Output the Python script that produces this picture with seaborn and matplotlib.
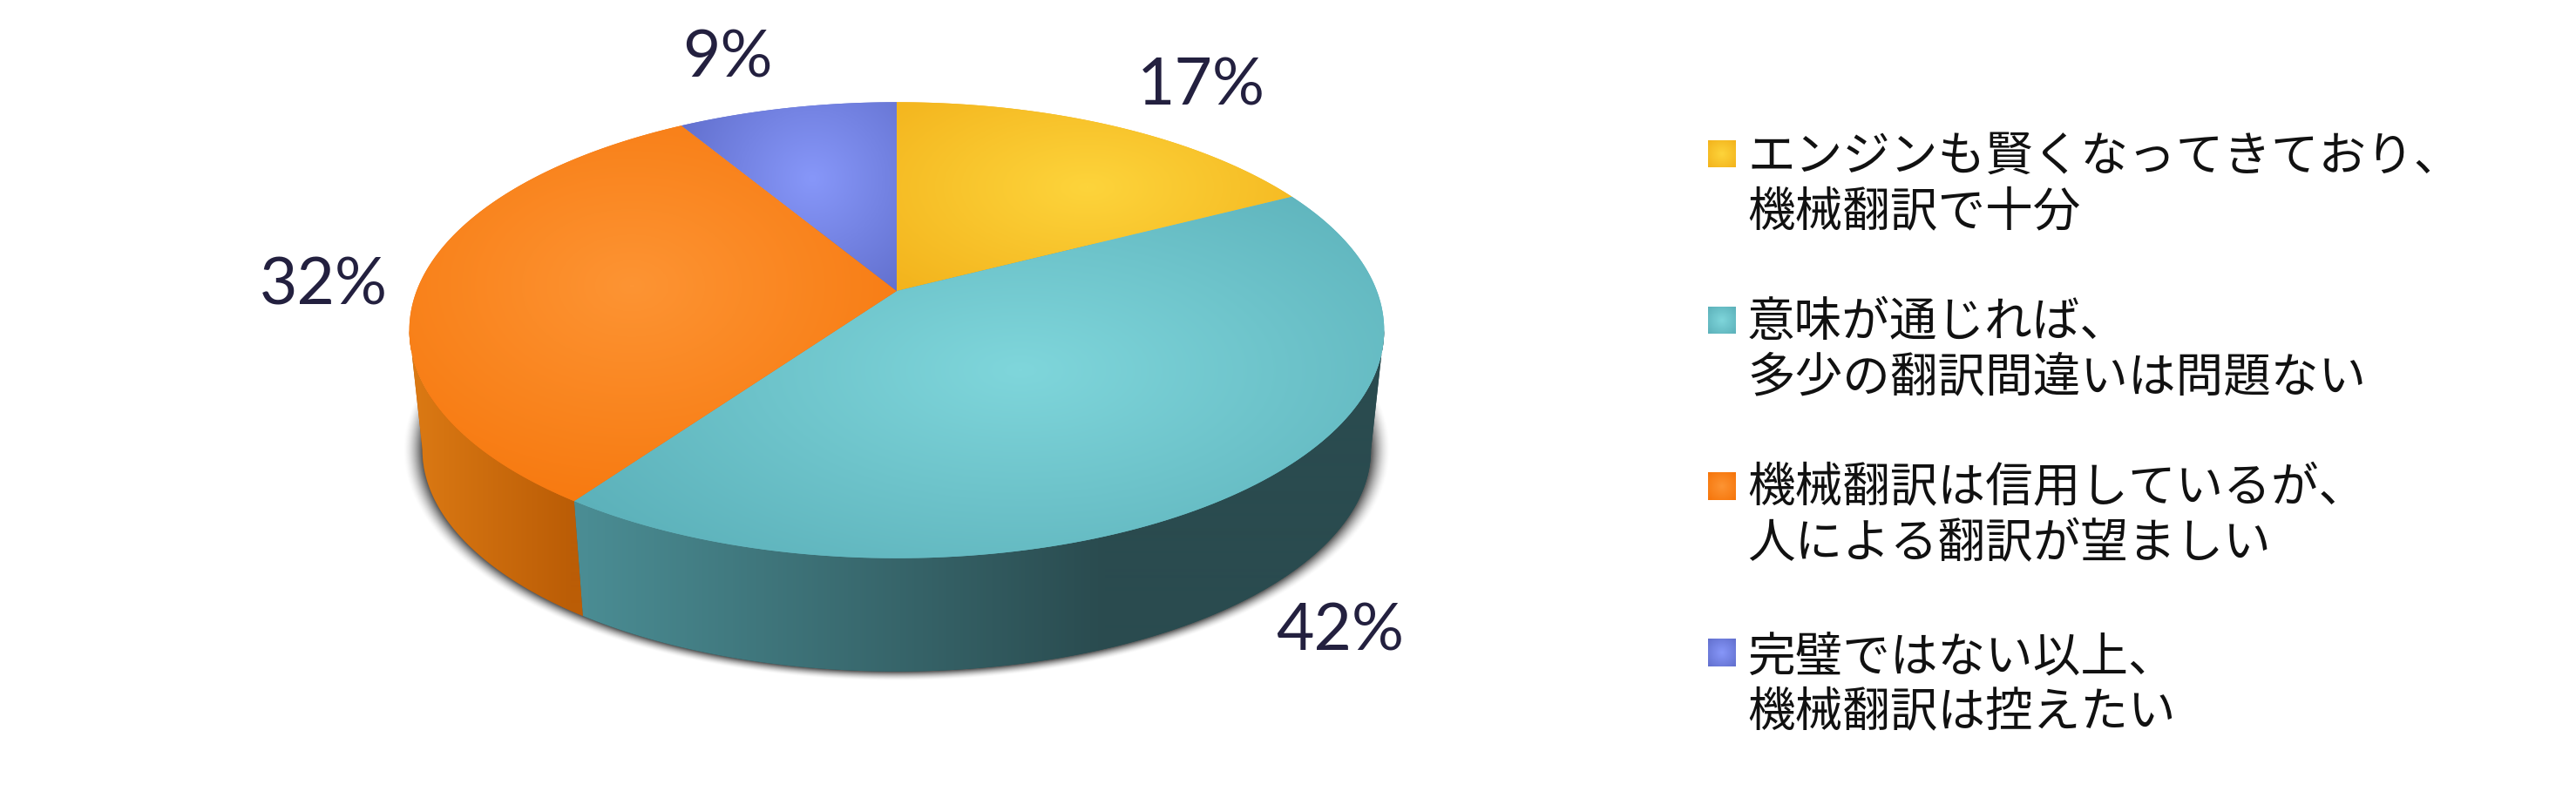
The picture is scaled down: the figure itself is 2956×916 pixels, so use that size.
import numpy as np
import matplotlib
matplotlib.use("Agg")
import matplotlib.pyplot as plt
import seaborn as sns
from matplotlib.patches import Polygon
from matplotlib.path import Path
from matplotlib.transforms import Affine2D, Transform

# ---- data ----
categories = [
    "エンジンも賢くなってきており、\n機械翻訳で十分",
    "意味が通じれば、\n多少の翻訳間違いは問題ない",
    "機械翻訳は信用しているが、\n人による翻訳が望ましい",
    "完璧ではない以上、\n機械翻訳は控えたい",
]
values = [17.4, 42.4, 31.6, 8.6]
# ---- style ----
light = ["#FDD43B", "#7FD6DB", "#FD9433", "#8797F9"]
edge = ["#F3B31C", "#5CB1BA", "#F6750A", "#6270CE"]
side_left = ["#E9AB16", "#4B8E95", "#DC7A14", "#6270CE"]
side_right = ["#B98A10", "#2A4B4F", "#BB5D06", "#4A5498"]
side_span = [(1029, 1480), (656, 1270), (470, 656), (780, 1029)]
glow = [(1248, 215, 320, 160), (1171, 425, 600, 290), (725, 328, 430, 300), (932, 205, 165, 160)]
label_xy = [(1378, 99), (1538, 725), (371, 328), (835, 67)]
swatch_y = [(161, 192), (352, 383), (542, 574), (733, 765)]
text_y = [212, 402, 592, 786]
W, H = 2956, 916

sns.set_theme(style="white")
plt.rcParams["font.family"] = ["Noto Sans CJK JP", "DejaVu Sans"]


class DiskProjection(Transform):
    """Perspective view of the unit pie disk, in pixel-like axis units."""
    input_dims = output_dims = 2
    is_separable = False

    def __init__(self, cx, cy, a, b, k):
        super().__init__()
        self.p = (cx, cy, a, b, k)

    def transform_non_affine(self, vals):
        cx, cy, a, b, k = self.p
        vals = np.asarray(vals, float)
        w = 1 + k * vals[:, 1]
        return np.column_stack([cx + a * vals[:, 0] / w, cy - b * vals[:, 1] / w])

    def transform_path_non_affine(self, path):
        polys = path.transformed(Affine2D().scale(3000)).to_polygons(closed_only=True)
        return Path(self.transform_non_affine(polys[0] / 3000), closed=True)


fig = plt.figure(figsize=(W / 100, H / 100), dpi=100, facecolor="white")
ax = fig.add_axes([0, 0, 1, 1])

wedges, _ = ax.pie(values, colors=edge, startangle=90, counterclock=False,
                   wedgeprops={"linewidth": 0})
ax.set_aspect("auto")

K = 0.172
proj = DiskProjection(1029, 334, 551, 254, K)
SHRINK, VANISH = 0.973, 5455
# silhouette angles: the wall is visible between these two tangent points
tangent = np.degrees(np.arcsin(K))
vis_lo, vis_hi = -180 + tangent, -tangent


def base_of(pts):
    return np.column_stack([1029 + (pts[:, 0] - 1029) * SHRINK,
                            VANISH + (pts[:, 1] - VANISH) * SHRINK])


gx, gy = np.meshgrid(np.arange(W) + 0.5, np.arange(H) + 0.5)
extent = (0, W, H, 0)

# soft shadow around the base of the disk
d = np.hypot((gx - 1029) / 544, (gy - 516) / 255)
soft = np.clip((1.042 - d) / 0.04, 0, 1) ** 1.7
ax.imshow(np.zeros_like(d), cmap="gray", vmin=0, vmax=1, extent=extent, aspect="auto",
          alpha=0.62 * soft, zorder=0)

for i, w in enumerate(wedges):
    w.set_transform(proj + ax.transData)
    w.set_zorder(3)
    t0, t1 = max(w.theta1, vis_lo), min(w.theta2, vis_hi)
    if t1 > t0:
        th = np.radians(np.linspace(t0, t1, 240))
        top = proj.transform(np.column_stack([np.cos(th), np.sin(th)]))
        wall = Polygon(np.vstack([top, base_of(top)[::-1]]), closed=True,
                       facecolor=side_right[i], edgecolor="none", zorder=1)
        ax.add_patch(wall)
        x0, x1 = side_span[i]
        grad = np.clip((gx[:1, :] - x0) / (x1 - x0), 0, 1)
        cm_side = sns.blend_palette([side_left[i], side_right[i]], n_colors=256, as_cmap=True)
        im = ax.imshow(grad, cmap=cm_side, vmin=0, vmax=1, extent=extent, aspect="auto",
                       zorder=2, interpolation="bilinear")
        im.set_clip_path(wall)

    gcx, gcy, rx, ry = glow[i]
    dist = np.clip(np.hypot((gx - gcx) / rx, (gy - gcy) / ry), 0, 1)
    cm_top = sns.blend_palette([light[i], edge[i]], n_colors=256, as_cmap=True)
    im = ax.imshow(dist, cmap=cm_top, vmin=0, vmax=1, extent=extent, aspect="auto",
                   zorder=4, interpolation="bilinear")
    im.set_clip_path(w)

# percentage labels
for v, (lx, ly) in zip(values, label_xy):
    ax.text(lx, ly, f"{v:.0f}%", family="Lato", fontsize=54, color="#23203F",
            ha="center", va="center", zorder=6)

# legend
sq_d = np.hypot(*np.meshgrid(np.linspace(-1, 1, 32), np.linspace(-1, 1, 32))) / 1.414
for i, cat in enumerate(categories):
    y0, y1 = swatch_y[i]
    cm = sns.blend_palette([light[i], edge[i]], n_colors=256, as_cmap=True)
    ax.imshow(sq_d, cmap=cm, vmin=0, vmax=1, extent=(1960, 1992, y1, y0), aspect="auto", zorder=5)
    ax.text(2005, text_y[i], cat, fontsize=39.3, color="#111111", ha="left", va="center",
            linespacing=1.13, zorder=6)

ax.set_xlim(0, W)
ax.set_ylim(H, 0)
ax.axis("off")
fig.savefig("out.png", dpi=100, facecolor="white")
